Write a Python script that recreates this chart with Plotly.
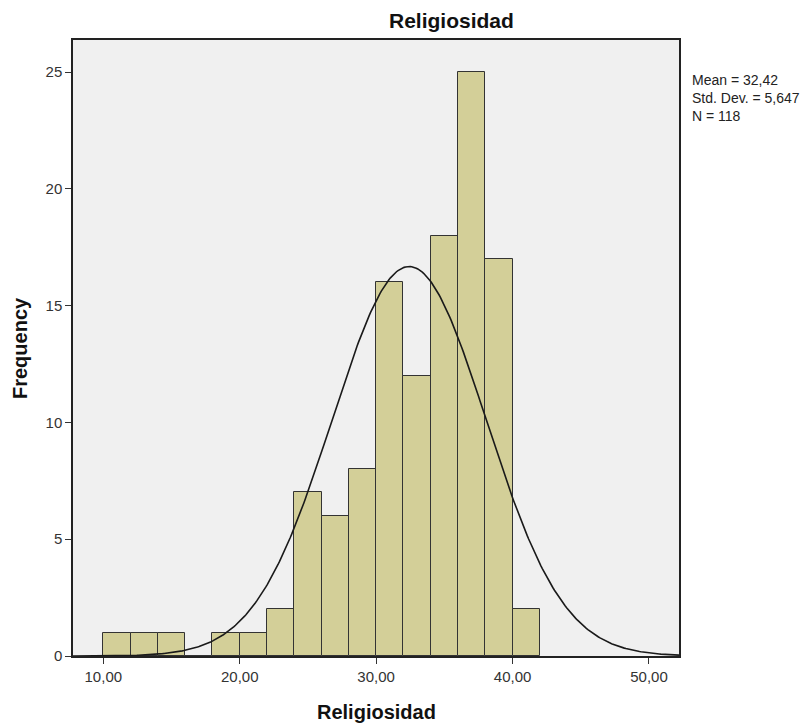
import numpy as np
import plotly.graph_objects as go

bin_starts = [10, 12, 14, 16, 18, 20, 22, 24, 26, 28, 30, 32, 34, 36, 38, 40]
counts = [1, 1, 1, 0, 1, 1, 2, 7, 6, 8, 16, 12, 18, 25, 17, 2]
bin_width = 2
mean_val = 32.42
sd_val = 5.647
n_val = 118
x_ticks = [10, 20, 30, 40, 50]
x_tick_labels = ["10,00", "20,00", "30,00", "40,00", "50,00"]
y_ticks = [0, 5, 10, 15, 20, 25]
stats_lines = ["Mean = 32,42", "Std. Dev. = 5,647", "N = 118"]

OFF = 8  # page body margin
W, H = 812 - OFF, 725 - OFF
PL, PT, PR, PB = 73, 40, 679, 656  # plot area in page pixels
L, T = PL - OFF, PT - OFF
R = W - (PR - OFF)
B = H - (PB - OFF)
pw, ph = PR - PL, PB - PT

def px_x(p):
    return (p - PL) / pw

def px_y(p):
    return (PB - p) / ph

fig = go.Figure()
fig.add_trace(go.Bar(
    x=[s + bin_width / 2 for s in bin_starts], y=counts, width=bin_width,
    marker=dict(color="#D3CF98", line=dict(color="#333333", width=1)),
    hoverinfo="x+y", showlegend=False,
))

xs = np.linspace(7.78, 52.2, 400)
ys = n_val * bin_width / (sd_val * np.sqrt(2 * np.pi)) * np.exp(-0.5 * ((xs - mean_val) / sd_val) ** 2)
fig.add_trace(go.Scatter(x=xs, y=ys, mode="lines", line=dict(color="#1a1a1a", width=1.6),
                         showlegend=False, hoverinfo="skip"))

font = "Liberation Sans, Arial, sans-serif"
anns = [
    dict(text="<b>Religiosidad</b>", x=px_x(451), y=px_y(21), xref="paper", yref="paper",
         showarrow=False, font=dict(size=21, color="#111"), xanchor="center", yanchor="middle"),
    dict(text="<b>Religiosidad</b>", x=px_x(376), y=px_y(712), xref="paper", yref="paper",
         showarrow=False, font=dict(size=20, color="#111"), xanchor="center", yanchor="middle"),
    dict(text="<b>Frequency</b>", x=px_x(20), y=px_y(348), xref="paper", yref="paper",
         showarrow=False, textangle=-90, font=dict(size=20, color="#111"),
         xanchor="center", yanchor="middle"),
    dict(text="<br>".join(stats_lines), x=px_x(690), y=px_y(98), xref="paper", yref="paper",
         showarrow=False, xanchor="left", yanchor="middle", align="left",
         font=dict(size=14, color="#222")),
]

fig.update_layout(
    width=W, height=H,
    margin=dict(l=L, r=R, t=T, b=B, autoexpand=False),
    paper_bgcolor="white", plot_bgcolor="#F0F0F0",
    font=dict(family=font, size=15, color="#222222"),
    bargap=0,
    xaxis=dict(range=[7.78, 52.2], tickvals=x_ticks, ticktext=x_tick_labels,
               ticks="outside", ticklen=6, tickcolor="#333", showgrid=False, zeroline=False,
               showline=True, linecolor="#222", linewidth=1.5, mirror=True,
               tickfont=dict(size=15, color="#333")),
    yaxis=dict(range=[0, 26.37], tickvals=y_ticks, ticks="outside", ticklen=6,
               tickcolor="#333", showgrid=False, zeroline=False,
               showline=True, linecolor="#222", linewidth=1.5, mirror=True,
               tickfont=dict(size=15, color="#333")),
    annotations=anns,
)
fig.write_html("out.html")
